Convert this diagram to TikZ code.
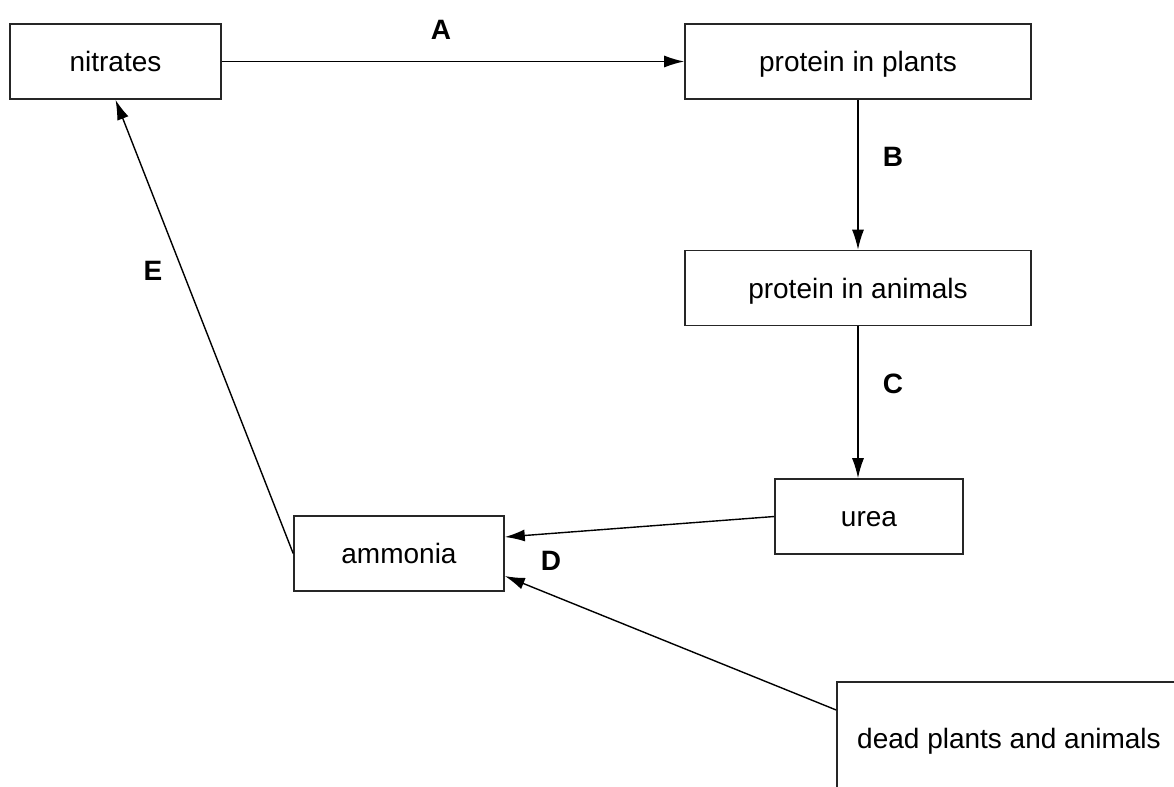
\documentclass[tikz,border=0pt]{standalone}
\usepackage{fontspec}
\setmainfont{Liberation Sans}
\usepackage{tikz}
\usetikzlibrary{arrows.meta,positioning}
\tikzset{
  stagebox/.style={rectangle, draw=black!85, line width=0.8pt, inner sep=0pt,
                   minimum width=#1, minimum height=37.5pt,
                   text height=10pt, text depth=0pt,
                   font=\fontsize{14}{17}\selectfont, text centered},
  arr/.style={-{Latex[length=10pt, width=6pt]}, line width=0.7pt, draw=black},
  steplabel/.style={font=\fontsize{14}{17}\selectfont\bfseries},
}
\begin{document}
\begin{tikzpicture}[x=0.5pt, y=-0.5pt]
  \useasboundingbox (0,0) rectangle (1174,787);
  % boxes
  \node[stagebox=105.5pt] (nit)   at (115.5,61.5)  {nitrates};
  \node[stagebox=173pt]   (pplant) at (858,61.5)   {protein in plants};
  \node[stagebox=173pt]   (panim)  at (858,288)    {protein in animals};
  \node[stagebox=94pt]    (urea)   at (869,516.5)  {urea};
  \node[stagebox=105pt]   (amm)    at (399,553.5)  {ammonia};
  \begin{scope}
    \clip (0,0) rectangle (1174,787);
    \node[stagebox=172pt, minimum height=56pt] (dead) at (1009,738) {dead plants and animals};
  \end{scope}
  % arrows
  \draw[arr] (nit.east) -- (pplant.west);
  \draw[arr] (pplant.south) -- (panim.north);
  \draw[arr] (panim.south) -- (panim.south |- urea.north);
  \draw[arr] (urea.west) -- ([yshift=8.25pt]amm.east);
  \draw[arr] ([yshift=14pt]dead.west) -- ([yshift=-11.25pt]amm.east);
  \draw[arr] (amm.west) -- (nit.south);
  % labels
  \node[steplabel] (la) at (441,30)  {A};
  \node[steplabel] (lb) at (893,157) {B};
  \node[steplabel] (lc) at (893,384) {C};
  \node[steplabel] (ld) at (551,561) {D};
  \node[steplabel] (le) at (153,271) {E};
\end{tikzpicture}
\end{document}
